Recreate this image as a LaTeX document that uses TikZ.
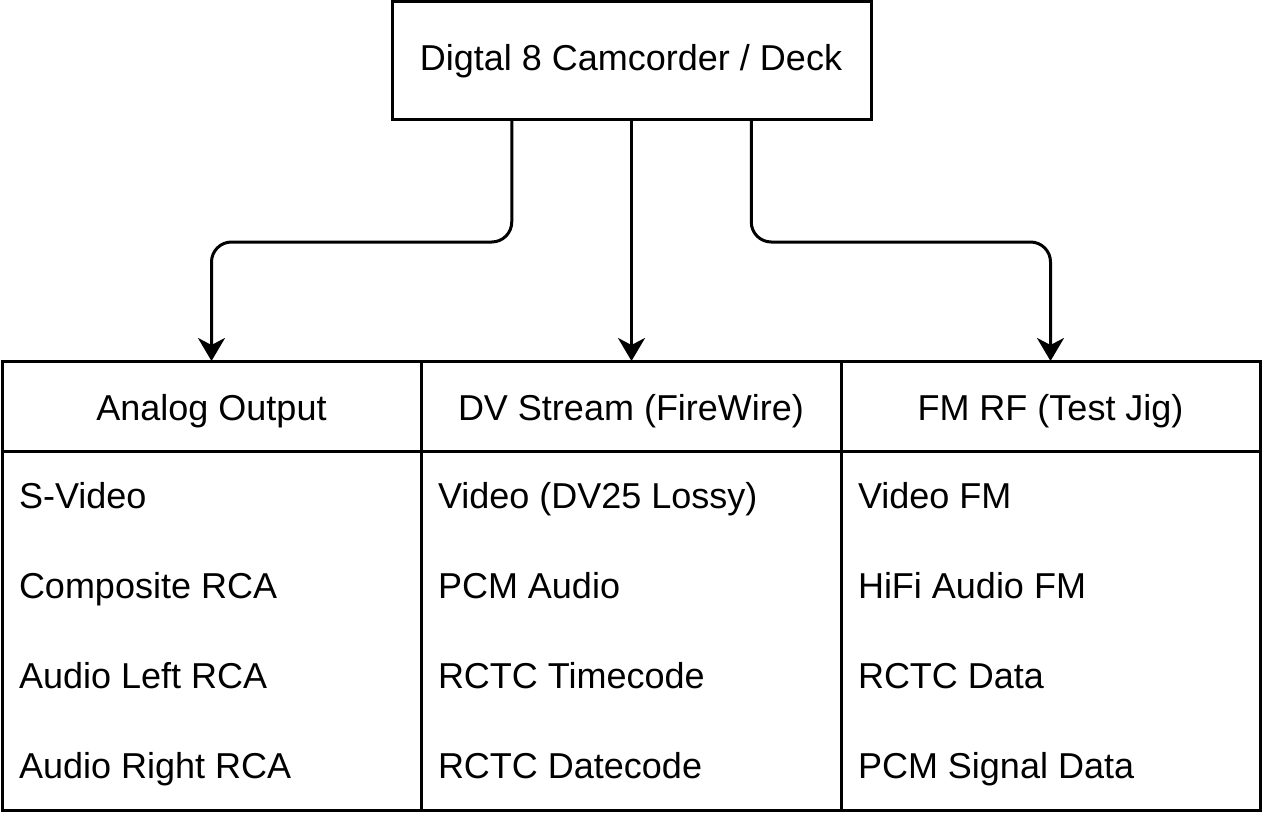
\documentclass[tikz,border=0pt]{standalone}
\usepackage{fontspec}
\setmainfont{Liberation Sans}
\usetikzlibrary{arrows.meta,calc}
\begin{document}
\begin{tikzpicture}[x=1pt,y=-1pt,
  box/.style={draw=black,line width=3pt,inner sep=0pt,outer sep=0pt,font=\fontsize{36}{43}\selectfont},
  item/.style={inner sep=0pt,outer sep=0pt,anchor=base west,font=\fontsize{36}{43}\selectfont},
  conn/.style={draw=black,line width=3pt,rounded corners=20pt,-{Stealth[length=23pt,width=27pt,inset=7pt]}}]
\useasboundingbox (0,0) rectangle (1263,813);
% top box
\node[box,minimum width=479pt,minimum height=118pt] (top) at (631.5,61) {};
\node[inner sep=0pt,anchor=base,font=\fontsize{36}{43}\selectfont] (toptext) at (631,70.5) {Digtal 8 Camcorder / Deck};
% headers
\node[box,minimum width=419pt,minimum height=90pt] (h1) at (211.5,406) {};
\node[box,minimum width=420pt,minimum height=90pt] (h2) at (631,406) {};
\node[box,minimum width=419pt,minimum height=90pt] (h3) at (1050.5,406) {};
\node[inner sep=0pt,anchor=base,font=\fontsize{36}{43}\selectfont] (t1) at (211.5,420) {Analog Output};
\node[inner sep=0pt,anchor=base,font=\fontsize{36}{43}\selectfont] (t2) at (631,420) {DV Stream (FireWire)};
\node[inner sep=0pt,anchor=base,font=\fontsize{36}{43}\selectfont] (t3) at (1050.5,420) {FM RF (Test Jig)};
% bodies
\node[box,minimum width=419pt,minimum height=359pt] (b1) at (211.5,630.5) {};
\node[box,minimum width=420pt,minimum height=359pt] (b2) at (631,630.5) {};
\node[box,minimum width=419pt,minimum height=359pt] (b3) at (1050.5,630.5) {};
% items column 1
\node[item] (a1) at (19,508.5) {S-Video};
\node[item] (a2) at (19,598.5) {Composite RCA};
\node[item] (a3) at (19,688.5) {Audio Left RCA};
\node[item] (a4) at (19,778.5) {Audio Right RCA};
% items column 2
\node[item] (d1) at (438,508.5) {Video (DV25 Lossy)};
\node[item] (d2) at (438,598.5) {PCM Audio};
\node[item] (d3) at (438,688.5) {RCTC Timecode};
\node[item] (d4) at (438,778.5) {RCTC Datecode};
% items column 3
\node[item] (f1) at (858,508.5) {Video FM};
\node[item] (f2) at (858,598.5) {HiFi Audio FM};
\node[item] (f3) at (858,688.5) {RCTC Data};
\node[item] (f4) at (858,778.5) {PCM Signal Data};
% connectors
\coordinate (s1) at ($(top.south west)!0.25!(top.south east)$);
\coordinate (s3) at ($(top.south west)!0.75!(top.south east)$);
\draw[conn] (s1) -- ++(0,122) -| (h1.north);
\draw[conn] (top.south) -- (top.south |- h2.north);
\draw[conn] (s3) -- ++(0,122) -| (h3.north);
\end{tikzpicture}
\end{document}
